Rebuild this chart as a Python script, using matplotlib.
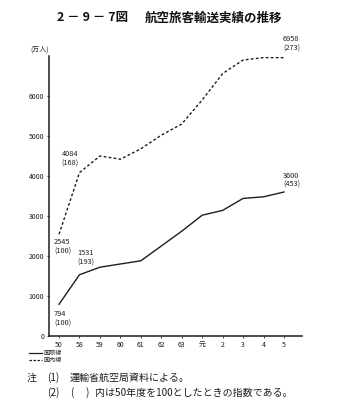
"""Air passenger transport results, FY1975-FY1993 (domestic vs international)."""

import matplotlib

matplotlib.use("Agg")
import matplotlib.pyplot as plt
from matplotlib.lines import Line2D

plt.rcParams["font.family"] = ["Noto Sans CJK JP", "DejaVu Sans"]

YEARS = ["50", "58", "59", "60", "61", "62", "63", "元", "2", "3", "4", "5"]
DOMESTIC = [2545, 4084, 4500, 4420, 4680, 5020, 5300, 5900, 6560, 6900, 6960, 6958]
INTERNATIONAL = [794, 1531, 1720, 1800, 1880, 2250, 2620, 3020, 3140, 3440, 3480, 3600]
Y_TICKS = [0, 1000, 2000, 3000, 4000, 5000, 6000]

# (index, value, index-number text, x offset px, y offset px, va)
DOM_LABELS = [(0, 2545, "(100)", -5, -4, "top"),
              (1, 4084, "(168)", -18, 5, "bottom"),
              (11, 6958, "(273)", -1, 5, "bottom")]
INT_LABELS = [(0, 794, "(100)", -5, -6, "top"),
              (1, 1531, "(193)", -2, 8, "bottom"),
              (11, 3600, "(453)", -1, 3, "bottom")]

INK = "#1e1e1e"
W, H = 348, 416
fig = plt.figure(figsize=(W / 100, H / 100), dpi=100)
ax = fig.add_axes([49 / W, 1 - 336 / H, (302 - 49) / W, (336 - 56) / H])

x = list(range(len(YEARS)))
ax.plot(x, INTERNATIONAL, color=INK, linewidth=1.0)
ax.plot(x, DOMESTIC, color=INK, linewidth=1.0, linestyle=(0, (2, 1.6)))

for idx, val, idx_text, dx, dy, va in DOM_LABELS + INT_LABELS:
    ax.annotate(f"{val}\n{idx_text}", (idx, val), xytext=(dx, dy),
                textcoords="offset pixels", ha="left", va=va,
                fontsize=5.3, linespacing=1.25, color=INK)

ax.set_xlim(-0.49, 11.88)
ax.set_ylim(0, 7000)
ax.set_xticks(x, YEARS)
ax.set_yticks(Y_TICKS, [str(v) for v in Y_TICKS])
ax.tick_params(axis="both", labelsize=5, colors=INK, length=1.5, width=0.6, pad=2)
for side in ("top", "right"):
    ax.spines[side].set_visible(False)
for side in ("left", "bottom"):
    ax.spines[side].set_linewidth(1.1)
    ax.spines[side].set_color(INK)

fig.text(30 / W, 1 - 50 / H, "(万人)", fontsize=5, va="center", ha="left", color=INK)

# title
fig.text(57 / W, 1 - 18 / H, "2 － 9 － 7図", fontsize=9, fontweight="bold",
         ha="left", va="center", color="#111111")
fig.text(145 / W, 1 - 18 / H, "航空旅客輸送実績の推移", fontsize=9, fontweight="bold",
         ha="left", va="center", color="#111111")

# legend, drawn by hand under the x axis
for y_px, style, name in ((353, "-", "国際線"), (360, (0, (2, 1.2)), "国内線")):
    fig.add_artist(Line2D([29 / W, 42 / W], [1 - y_px / H] * 2, color=INK,
                          linewidth=0.9, linestyle=style, transform=fig.transFigure))
    fig.text(43 / W, 1 - y_px / H, name, fontsize=4.4, ha="left", va="center", color=INK)

# notes
NOTE = dict(fontsize=7.2, ha="left", va="center", color=INK)
fig.text(27 / W, 1 - 378 / H, "注", **NOTE)
fig.text(47 / W, 1 - 378 / H, "(1)", **NOTE)
fig.text(70 / W, 1 - 378 / H, "運輸省航空局資料による。", **NOTE)
fig.text(47 / W, 1 - 393 / H, "(2)", **NOTE)
fig.text(70 / W, 1 - 393 / H, "(", **NOTE)
fig.text(86 / W, 1 - 393 / H, ")", **NOTE)
fig.text(95 / W, 1 - 393 / H, "内は50年度を100としたときの指数である。", **NOTE)

fig.savefig("out.png", dpi=100)
